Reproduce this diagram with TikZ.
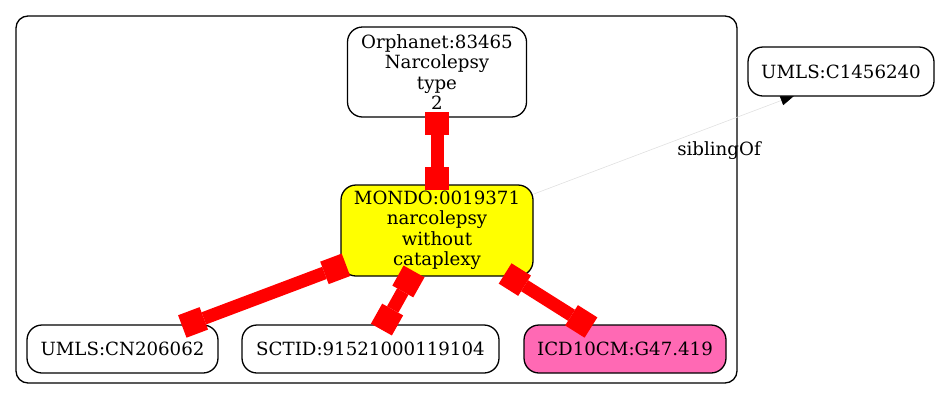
\documentclass[tikz,border=0pt]{standalone}
\usepackage{fontspec}
\setmainfont{DejaVu Serif}
\usetikzlibrary{arrows.meta}
\definecolor{hotpink}{HTML}{FF69B4}
\definecolor{pureyellow}{HTML}{FFFF00}
\tikzset{
  box/.style={draw=black, line width=1.3pt, rounded corners=15pt, align=center,
    inner sep=0pt, font=\fontsize{18.2}{20.5}\selectfont},
  rededge/.style={draw=red, line width=13pt,
    {Square[length=23pt,width=24pt,line width=0pt]}-{Square[length=23pt,width=24pt,line width=0pt]},
    shorten <=-6pt, shorten >=-6pt},
  sibling/.style={draw=black!12, line width=0.6pt,
    -{Triangle[length=14pt,width=10pt,color=black]}},
  lbl/.style={font=\fontsize{18.2}{20.5}\selectfont, inner sep=0pt}
}
\begin{document}
\begin{tikzpicture}[x=1pt,y=-1pt]
\useasboundingbox (0,0) rectangle (940,400);
\draw[line width=1.3pt, rounded corners=12pt] (16,16) rectangle (737,383);
\node[box, minimum width=179pt, minimum height=90pt] (orpha) at (437,72)
  {Orphanet:83465\\Narcolepsy\\type\\2};
\node[box, fill=pureyellow, minimum width=192pt, minimum height=91pt] (mondo) at (437,230.5)
  {MONDO:0019371\\narcolepsy\\without\\cataplexy};
\node[box, minimum width=191pt, minimum height=48pt] (umlsa) at (122.5,349)
  {UMLS:CN206062};
\node[box, minimum width=257pt, minimum height=48pt] (sctid) at (370.5,349)
  {SCTID:91521000119104};
\node[box, fill=hotpink, minimum width=202pt, minimum height=48pt] (icd) at (625,349)
  {ICD10CM:G47.419};
\coordinate (sibend) at (794.5,95.5);
\draw[rededge] (orpha) -- (mondo);
\draw[rededge] (mondo) -- (umlsa);
\draw[rededge] (mondo) -- (sctid);
\draw[rededge] (mondo) -- (icd);
\draw[sibling] (mondo) -- (sibend);
\node[box, fill=white, minimum width=186pt, minimum height=49pt] (umlsb) at (841,71.5)
  {UMLS:C1456240};
\node[lbl] (siblbl) at (719,151) {siblingOf};
\end{tikzpicture}
\end{document}
